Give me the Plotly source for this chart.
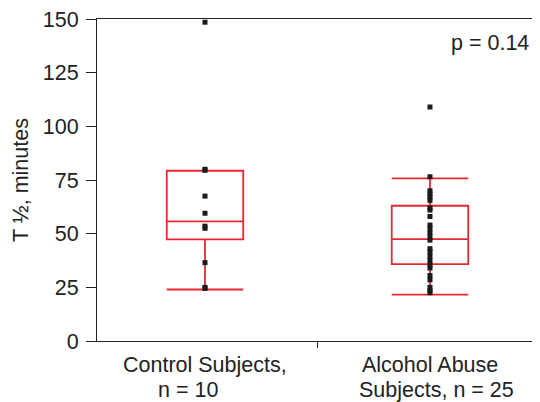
import plotly.graph_objects as go

categories = [["Control Subjects,", "n = 10"], ["Alcohol Abuse", "Subjects, n = 25"]]
control_values = [148.5, 80, 79.5, 67.5, 59.5, 53.5, 52.5, 36.5, 25, 24.5]
alcohol_values = [109, 76.5, 70, 68.5, 67, 65.5, 62, 61, 58, 54, 52.5, 50.5, 48.5,
                  47, 43, 41.5, 39.5, 37.5, 35.5, 34, 30.5, 28.5, 25, 23.5, 22.5]
# box statistics: [lowerfence, q1, median, q3, upperfence]
control_stats = [24, 47.3, 55.7, 79.3, 79.3]
alcohol_stats = [21.6, 35.8, 47.5, 63, 75.8]
p_text = "p = 0.14"
y_ticks = [0, 25, 50, 75, 100, 125, 150]

red = "#e8282e"
ink = "#222"
fig = go.Figure()
for i, st in enumerate([control_stats, alcohol_stats]):
    fig.add_trace(go.Box(
        x=[i], lowerfence=[st[0]], q1=[st[1]], median=[st[2]], q3=[st[3]], upperfence=[st[4]],
        width=0.34, whiskerwidth=1, line=dict(color=red, width=1.8),
        fillcolor="rgba(0,0,0,0)", boxpoints=False, showlegend=False, hoverinfo="skip"))

for i, vals in enumerate([control_values, alcohol_values]):
    fig.add_trace(go.Scatter(
        x=[i] * len(vals), y=vals, mode="markers",
        marker=dict(symbol="square", size=5, color="#1a1a1a"),
        cliponaxis=False, showlegend=False))

font = dict(family="Liberation Sans, Arial, sans-serif", size=21.5, color=ink)

# category labels (two lines each, positioned under their box)
line_shifts = [[0, -17], [0, 7]]
annotations = []
for i, lines in enumerate(categories):
    for j, txt in enumerate(lines):
        annotations.append(dict(text=txt, xref="x", yref="paper", x=i, y=0,
                                xanchor="center", yanchor="top", showarrow=False,
                                xshift=line_shifts[i][j], yshift=-10 - 25 * j, font=font))
annotations.append(dict(text=p_text, xref="paper", yref="paper", x=0.979, y=0.926,
                        xanchor="right", yanchor="middle", showarrow=False, font=font))

# the page body adds an 8px offset; size the figure to the visible area
fig.update_layout(
    width=532, height=394, margin=dict(l=89, r=0, t=9, b=61),
    paper_bgcolor="white", plot_bgcolor="white", font=font,
    xaxis=dict(range=[-0.48, 1.489], showgrid=False, zeroline=False,
               showline=True, linecolor=ink, linewidth=1, mirror=True,
               tickvals=[0, 1], showticklabels=False, ticks="",
               minor=dict(tickvals=[0.5], ticks="outside", ticklen=6, tickcolor=ink)),
    yaxis=dict(range=[0, 150], tickvals=y_ticks, showgrid=False, zeroline=False,
               showline=True, linecolor=ink, linewidth=1, ticks="outside",
               ticklen=10, tickcolor=ink, tickfont=font, ticklabeloverflow="allow",
               ticklabelstandoff=3,
               title=dict(text="T ½, minutes", font=font, standoff=8)),
    annotations=annotations,
)
fig.write_html("out.html")
